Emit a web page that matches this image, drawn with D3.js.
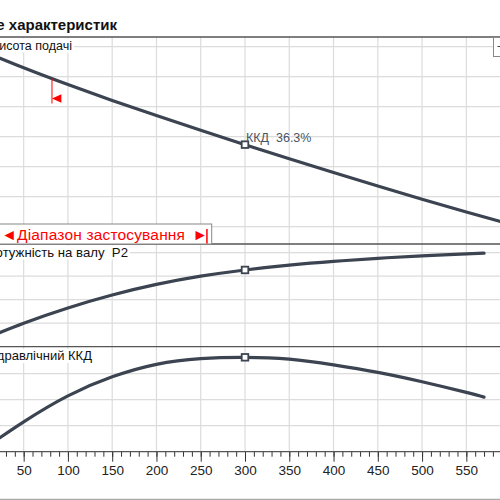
<!DOCTYPE html>
<html>
<head>
<meta charset="utf-8">
<script src="https://cdn.jsdelivr.net/npm/d3@7"></script>
<style>
  body { margin: 0; background: #fff; }
  svg { display: block; font-family: "Liberation Sans", Arial, sans-serif; }
</style>
</head>
<body>
<div id="chart"></div>
<script>
// Поле характеристик насоса: H, P2, ККД
const flowQ   = [0, 50, 100, 150, 200, 250, 300, 350, 400, 450, 500, 550, 600];
const headH   = [13.8, 12.6, 11.48, 10.42, 9.41, 8.43, 7.47, 6.53, 5.61, 4.71, 3.83, 2.98, 2.16];
const powerQ  = [0, 50, 100, 150, 200, 250, 300, 350, 400, 450, 500, 550, 570];
const powerP  = [0.45, 0.60, 0.73, 0.84, 0.93, 1.0, 1.053, 1.094, 1.126, 1.152, 1.173, 1.19, 1.196];
const effQ    = [0, 50, 100, 150, 200, 250, 300, 350, 400, 450, 500, 550, 570];
const effE    = [0, 11.5, 21.5, 28.8, 33.6, 35.8, 36.3, 35.6, 33.4, 30.5, 26.9, 22.8, 21.0];
const dutyQ   = 300;
const dutyEff = 36.3;
const rangeQ  = [82, 257];
const xTicks  = [0, 50, 100, 150, 200, 250, 300, 350, 400, 450, 500, 550, 600];
const headTicks  = [2, 4, 6, 8, 10, 12, 14];
const powerTicks = [0.6, 0.8, 1.0, 1.2];
const effTicks   = [10, 20, 30];

const W = 500, H = 500;
const curveColor = "#3b4450", gridColor = "#dcdcdc", borderColor = "#555";

const svg = d3.select("#chart").append("svg")
    .attr("width", W)
    .attr("height", H);

const x = d3.scaleLinear().domain([0, 600]).range([-20.6, 510.6]);

// panels : top / bottom in px
const panels = [
  {top: 37,    bottom: 244,   y: d3.scaleLinear().domain([0, 14]).range([256.7, 46.7]),   ticks: headTicks},
  {top: 244,   bottom: 346.7, y: d3.scaleLinear().domain([0.4, 1.2]).range([346.7, 252.7]), ticks: powerTicks},
  {top: 346.7, bottom: 451.7, y: d3.scaleLinear().domain([0, 40]).range([451.7, 347.7]),  ticks: effTicks}
];

// Titre
svg.append("text")
    .attr("x", 117)
    .attr("y", 29.5)
    .attr("text-anchor", "end")
    .style("font-weight", "bold")
    .style("font-size", "15px")
    .style("fill", "#111")
    .text("Поле характеристик");

const defs = svg.append("defs");

panels.forEach((p, i) => {
    defs.append("clipPath").attr("id", "clip" + i)
      .append("rect")
        .attr("x", 0).attr("y", p.top)
        .attr("width", W).attr("height", p.bottom - p.top);

    const g = svg.append("g").attr("clip-path", "url(#clip" + i + ")");

    // grille verticale
    g.selectAll(".vg")
        .data(xTicks)
        .enter().append("line")
            .attr("x1", d => x(d)).attr("x2", d => x(d))
            .attr("y1", p.top).attr("y2", p.bottom)
            .style("stroke", gridColor)
            .style("stroke-width", 1.2);

    // grille horizontale
    g.selectAll(".hg")
        .data(p.ticks)
        .enter().append("line")
            .attr("x1", 0).attr("x2", W)
            .attr("y1", d => p.y(d)).attr("y2", d => p.y(d))
            .style("stroke", gridColor)
            .style("stroke-width", 1.2);

    p.g = g;
});

// libellés des panneaux (fond blanc)
const labels = [
  {text: "Висота подачі", right: 72, base: 49.5, size: 12.5},
  {text: "Потужність на валу  P2", right: 128, base: 256.5, size: 13.2},
  {text: "Гідравлічний ККД", right: 92, base: 360, size: 13}
];
labels.forEach(l => {
    svg.append("rect")
        .attr("x", 0).attr("y", l.base - 11)
        .attr("width", l.right + 2).attr("height", 14)
        .style("fill", "#fff");
    svg.append("text")
        .attr("x", l.right)
        .attr("y", l.base)
        .attr("text-anchor", "end")
        .style("font-size", l.size + "px")
        .style("fill", "#111")
        .style("white-space", "pre")
        .text(l.text);
});

// courbes
const series = [
  {q: flowQ,  v: headH,  p: 0},
  {q: powerQ, v: powerP, p: 1},
  {q: effQ,   v: effE,   p: 2}
];
series.forEach(s => {
    const yS = panels[s.p].y;
    const line = d3.line()
        .x(d => x(d[0]))
        .y(d => yS(d[1]))
        .curve(d3.curveNatural);
    const pts = s.q.map((q, i) => [q, s.v[i]]);
    panels[s.p].g.append("path")
        .datum(pts)
        .attr("d", line)
        .style("fill", "none")
        .style("stroke", curveColor)
        .style("stroke-width", 3.2)
        .style("stroke-linecap", "round");

    // point de fonctionnement
    const yv = s.v[s.q.indexOf(dutyQ)];
    svg.append("rect")
        .attr("x", x(dutyQ) - 3.3)
        .attr("y", yS(yv) - 3.3)
        .attr("width", 6.6).attr("height", 6.6)
        .style("fill", "#fff")
        .style("stroke", curveColor)
        .style("stroke-width", 1.8);
});

// étiquette ККД
svg.append("text")
    .attr("x", x(dutyQ) + 1)
    .attr("y", panels[0].y(headH[flowQ.indexOf(dutyQ)]) - 3)
    .style("font-size", "12.5px")
    .style("fill", "#4b5563")
    .style("white-space", "pre")
    .text("ККД  " + dutyEff + "%");

// marqueur rouge début de plage
const headAt = q => panels[0].y(d3.interpolateNumber(headH[1], headH[2])((q - 50) / 50));
const xr0 = x(rangeQ[0]);
svg.append("line")
    .attr("x1", xr0).attr("x2", xr0)
    .attr("y1", headAt(rangeQ[0])).attr("y2", 103.5)
    .style("stroke", "red").style("stroke-width", 1);
svg.append("path")
    .attr("d", `M${xr0},98.5 L${xr0 + 9.4},94.2 L${xr0 + 9.4},102.8 Z`)
    .style("fill", "red");

// bordures
[37, 244, 346.7].forEach(yb => {
    svg.append("line")
        .attr("x1", 0).attr("x2", W)
        .attr("y1", yb).attr("y2", yb)
        .style("stroke", borderColor).style("stroke-width", 1.3);
});

// boîte "Діапазон застосування"
svg.append("rect")
    .attr("x", -5).attr("y", 224)
    .attr("width", 216.7).attr("height", 20)
    .style("fill", "#fff")
    .style("stroke", "#888")
    .style("stroke-width", 1);
svg.append("text")
    .attr("x", 1.5).attr("y", 239.5)
    .style("font-size", "15.5px")
    .style("fill", "red")
    .text("◄");
svg.append("text")
    .attr("x", 17).attr("y", 239.5)
    .attr("textLength", 168)
    .style("font-size", "15.5px")
    .style("fill", "red")
    .text("Діапазон застосування");
svg.append("text")
    .attr("x", 192.5).attr("y", 239.5)
    .style("font-size", "15.5px")
    .style("fill", "red")
    .text("►");
svg.append("line")
    .attr("x1", x(rangeQ[1])).attr("x2", x(rangeQ[1]))
    .attr("y1", 229).attr("y2", 243.5)
    .style("stroke", "red").style("stroke-width", 1.5);

// petite boîte légende en haut à droite
svg.append("rect")
    .attr("x", 493.5).attr("y", 37.5)
    .attr("width", 20).attr("height", 19)
    .style("fill", "#fff")
    .style("stroke", "#888");
svg.append("line")
    .attr("x1", 497.5).attr("x2", 500)
    .attr("y1", 46.5).attr("y2", 46.5)
    .style("stroke", "#444");

// axe X
const axisY = 451.7;
const axis = svg.append("g").attr("transform", `translate(0,${axisY})`);
axis.call(d3.axisBottom(x).tickValues(d3.range(0, 601, 10)).tickSize(5).tickFormat(""));
axis.append("g").call(d3.axisBottom(x).tickValues(xTicks).tickSize(10).tickPadding(4).tickFormat(d3.format("d")));
axis.selectAll(".domain").remove();
axis.selectAll("line").style("stroke", "#333").style("stroke-width", 1);
axis.selectAll("text")
    .style("font-size", "13.5px")
    .style("font-family", "'Liberation Sans', Arial, sans-serif")
    .style("fill", "#222");
svg.append("line")
    .attr("x1", 0).attr("x2", W)
    .attr("y1", axisY).attr("y2", axisY)
    .style("stroke", borderColor).style("stroke-width", 1.3);

// ligne du bas
svg.append("line")
    .attr("x1", 0).attr("x2", W)
    .attr("y1", 499.3).attr("y2", 499.3)
    .style("stroke", "#aaa").style("stroke-width", 1.2);
</script>
</body>
</html>
